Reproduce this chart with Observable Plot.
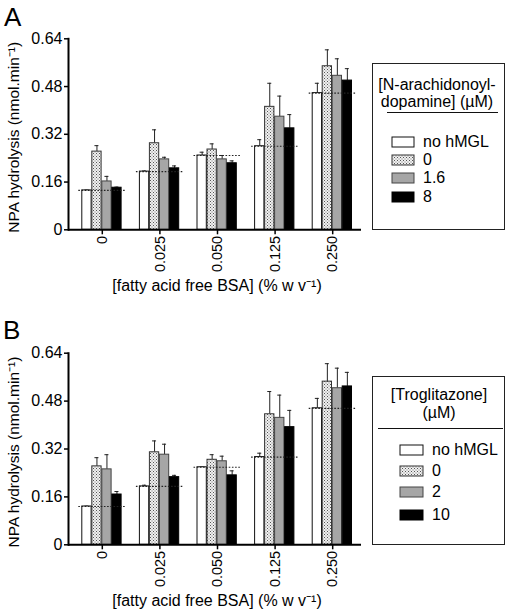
<!DOCTYPE html>
<html><head><meta charset="utf-8">
<script src="https://cdn.jsdelivr.net/npm/d3@7"></script>
<script src="https://cdn.jsdelivr.net/npm/@observablehq/plot@0.6"></script>
<style>
body{margin:0;background:#fff;font-family:"Liberation Sans",Arial,sans-serif;color:#000;}
#root{position:relative;width:508px;height:612px;overflow:hidden;background:#fff;}
.abs{position:absolute;white-space:nowrap;}
.letter{font-size:26px;line-height:26px;}
.lt{font-size:16px;line-height:18px;height:18px;}
.box{border:1px solid #222;box-sizing:border-box;}
.rule{height:0;border-top:1.5px solid #111;}
</style></head><body>
<svg width="0" height="0" style="position:absolute"><defs>
<pattern id="dots" width="3" height="3" patternUnits="userSpaceOnUse">
<rect width="3" height="3" fill="#f0f0f0"/><rect width="1" height="1" fill="#555"/><rect x="1.5" y="1.5" width="1" height="1" fill="#777"/>
</pattern></defs></svg>
<div id="root"></div>
<script>
// ---------- data ----------
const groups = ["0", "0.025", "0.050", "0.125", "0.250"];
const yTicks = [0, 0.16, 0.32, 0.48, 0.64];
const xLabel = "[fatty acid free BSA] (% w v\u207B\u00B9)";
const yLabel = "NPA hydrolysis (nmol.min\u207B\u00B9)";

// Panel A: N-arachidonoyl-dopamine
const seriesA = ["no hMGL", "0", "1.6", "8"];
const legendTitleA = ["[N-arachidonoyl-", "dopamine] (\u00B5M)"];
const meanA_noHMGL = [0.132, 0.195, 0.249, 0.280, 0.458];
const semA_noHMGL  = [0.001, 0.002, 0.011, 0.022, 0.033];
const meanA_0      = [0.262, 0.290, 0.269, 0.412, 0.548];
const semA_0       = [0.020, 0.045, 0.019, 0.079, 0.055];
const meanA_1_6    = [0.162, 0.236, 0.236, 0.379, 0.516];
const semA_1_6     = [0.017, 0.007, 0.013, 0.069, 0.057];
const meanA_8      = [0.141, 0.206, 0.223, 0.340, 0.500];
const semA_8       = [0.002, 0.008, 0.008, 0.046, 0.040];

// Panel B: Troglitazone
const seriesB = ["no hMGL", "0", "2", "10"];
const legendTitleB = ["[Troglitazone]", "(\u00B5M)"];
const meanB_noHMGL = [0.128, 0.195, 0.259, 0.293, 0.456];
const semB_noHMGL  = [0.001, 0.004, 0.001, 0.013, 0.033];
const meanB_0      = [0.262, 0.309, 0.284, 0.436, 0.545];
const semB_0       = [0.029, 0.038, 0.017, 0.076, 0.060];
const meanB_2      = [0.252, 0.301, 0.279, 0.424, 0.523];
const semB_2       = [0.049, 0.035, 0.017, 0.076, 0.067];
const meanB_10     = [0.168, 0.226, 0.232, 0.393, 0.529];
const semB_10      = [0.010, 0.006, 0.015, 0.056, 0.047];

// ---------- styles ----------
const fills = ["#ffffff", "url(#dots)", "#a6a6a6", "#000000"];
const strokes = ["#111", "#333", "#444", "#000"];

const root = document.getElementById("root");
function addDiv(cls, x, y, text, extra) {
  const d = document.createElement("div");
  d.className = "abs " + cls;
  d.style.left = x + "px"; d.style.top = y + "px";
  if (text != null) d.textContent = text;
  if (extra) Object.assign(d.style, extra);
  root.appendChild(d);
  return d;
}

function panel(top, marginTop, marginBottom, series, means, sems) {
  const width = 365, height = 300;
  const x0 = 73, x1 = 361;
  const band = (x1 - x0) / groups.length;
  const half = band / 2, step = 10, bw = 9.3;
  const rows = [];
  series.forEach((s, i) => groups.forEach((g, j) => rows.push({
    group: g, series: s, si: i, mean: means[i][j], top: means[i][j] + sems[i][j]
  })));
  const marks = [];
  series.forEach((s, i) => {
    const d = rows.filter(r => r.si === i);
    const left = half - 20 + i * step;
    const c = left + bw / 2;
    marks.push(Plot.ruleX(d, {x: "group", y1: "mean", y2: "top", dx: c - half, stroke: "#222", strokeWidth: 1}));
    marks.push(Plot.tickY(d, {x: "group", y: "top", insetLeft: c - 2, insetRight: band - c - 2, stroke: "#222", strokeWidth: 1}));
    marks.push(Plot.barY(d, {x: "group", y: "mean", fill: fills[i], stroke: strokes[i], strokeWidth: 1,
      insetLeft: left, insetRight: band - left - bw}));
  });
  // dotted reference line at the no-hMGL level
  marks.push(Plot.tickY(rows.filter(r => r.si === 0), {x: "group", y: "mean",
    insetLeft: half - 23.5, insetRight: half - 23.5, stroke: "#222", strokeWidth: 1.2, strokeDasharray: "1.6,1.6"}));
  marks.push(Plot.ruleY([0], {stroke: "#000", strokeWidth: 2}));
  marks.push(Plot.frame({anchor: "left", stroke: "#000", strokeWidth: 2}));
  marks.push(Plot.axisY({ticks: yTicks, tickSize: 4, tickPadding: 2, fontSize: 16, strokeWidth: 1.5,
    tickFormat: d => d === 0 ? "0" : d.toFixed(2), label: null}));
  marks.push(Plot.axisX({tickRotate: -90, tickSize: 5, tickPadding: 1, fontSize: 14.5, strokeWidth: 1.5, label: null}));
  marks.push(Plot.text([xLabel], {frameAnchor: "bottom", dy: 56, dx: 2, fontSize: 16, lineAnchor: "middle", textAnchor: "middle"}));
  marks.push(Plot.text([yLabel], {frameAnchor: "left", rotate: -90, dx: -54, dy: 3, fontSize: 15.5, textAnchor: "middle", lineAnchor: "middle"}));
  const svg = Plot.plot({
    width, height, marginTop, marginBottom, marginLeft: 68, marginRight: width - x1,
    style: {fontFamily: "Liberation Sans, Arial, sans-serif", color: "#000", background: "transparent", overflow: "visible"},
    x: {type: "band", domain: groups, range: [x0, x1], padding: 0, round: false},
    y: {domain: [0, 0.64], type: "linear"},
    marks
  });
  svg.style.position = "absolute";
  svg.style.left = "0px";
  svg.style.top = top + "px";
  root.appendChild(svg);
}

function legend(box, titleLines, titleYs, titleCx, ruleSpec, series, itemYs, swX, swW, labX) {
  addDiv("box", box.x, box.y, null, {width: box.w + "px", height: box.h + "px"});
  titleLines.forEach((t, k) => {
    addDiv("lt", titleCx - 80, titleYs[k] - 9, t, {width: "160px", textAlign: "center"});
  });
  addDiv("rule", ruleSpec.x, ruleSpec.y, null, {width: ruleSpec.w + "px"});
  series.forEach((s, i) => {
    const ns = "http://www.w3.org/2000/svg";
    const sv = document.createElementNS(ns, "svg");
    sv.setAttribute("width", swW + 2); sv.setAttribute("height", 12);
    sv.style.position = "absolute"; sv.style.left = (swX - 1) + "px"; sv.style.top = (itemYs[i] - 6) + "px";
    const r = document.createElementNS(ns, "rect");
    r.setAttribute("x", 1); r.setAttribute("y", 1); r.setAttribute("width", swW); r.setAttribute("height", 10);
    r.setAttribute("fill", fills[i]); r.setAttribute("stroke", strokes[i]); r.setAttribute("stroke-width", 1);
    sv.appendChild(r);
    root.appendChild(sv);
    addDiv("lt", labX, itemYs[i] - 9, s);
  });
}

panel(0, 38.3, 70.7, seriesA, [meanA_noHMGL, meanA_0, meanA_1_6, meanA_8], [semA_noHMGL, semA_0, semA_1_6, semA_8]);
panel(312, 40.7, 67.7, seriesB, [meanB_noHMGL, meanB_0, meanB_2, meanB_10], [semB_noHMGL, semB_0, semB_2, semB_10]);

addDiv("letter", 4, 3.5, "A");
addDiv("letter", 3, 316.5, "B");

legend({x: 372, y: 63, w: 133, h: 167}, legendTitleA, [85, 102], 437, {x: 387, y: 112, w: 111},
  seriesA, [142, 160, 178, 197], 392, 22, 423);
legend({x: 372, y: 376, w: 133, h: 169}, legendTitleB, [395, 413], 439, {x: 378, y: 428, w: 125},
  seriesB, [450, 471, 492, 515], 400, 23, 432);
</script>
</body></html>
